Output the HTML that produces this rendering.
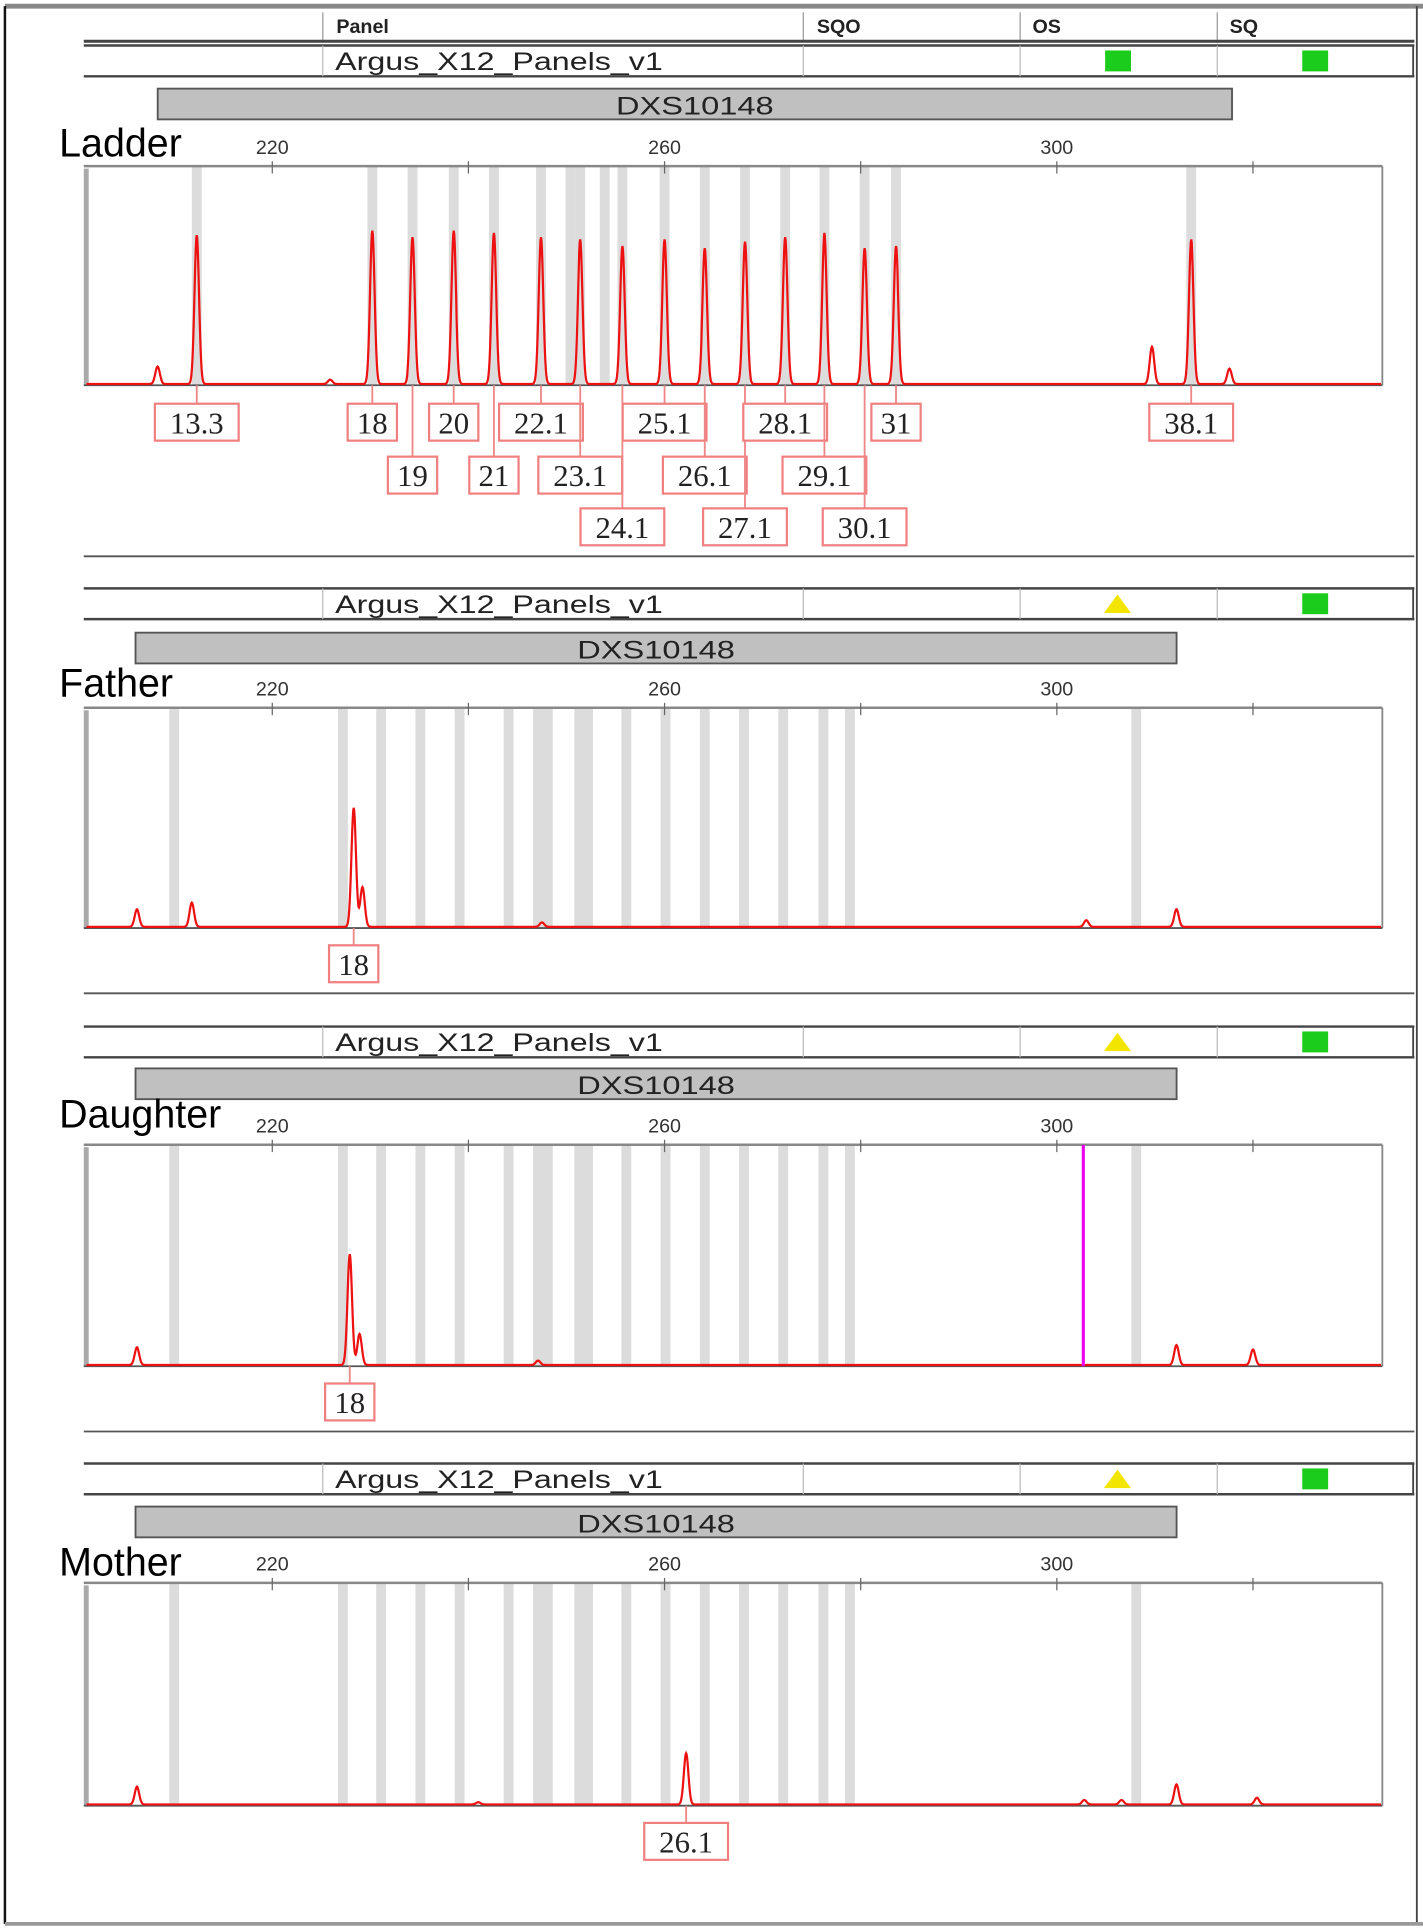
<!DOCTYPE html>
<html><head><meta charset="utf-8"><style>
html,body{margin:0;padding:0;background:#fff;}
svg{display:block;}
.hdr{font-family:"Liberation Sans",sans-serif;font-weight:bold;font-size:16px;fill:#222;}
.row{font-family:"Liberation Sans",sans-serif;font-size:20px;fill:#222;}
.dxs{font-family:"Liberation Sans",sans-serif;font-size:20px;fill:#222;}
.tick{font-family:"Liberation Sans",sans-serif;font-size:16px;fill:#333;}
.big{font-family:"Liberation Sans",sans-serif;font-size:32px;fill:#000;}
.lab{font-family:"Liberation Serif",serif;font-size:25px;fill:#222;}
</style></head><body>
<svg id="chart" width="1423" height="1930" viewBox="0 0 1155 1568" preserveAspectRatio="none" xmlns="http://www.w3.org/2000/svg"></svg>
<script>
// ---- data ----
const axisTicks = [220, 260, 300];
const minorTicks = [240, 280, 320];
const ladderPeakBp = [212.3,230.2,234.3,238.5,242.6,247.4,251.4,255.7,260.0,264.1,268.2,272.3,276.3,280.4,283.6,313.7,208.3,225.9,309.7,317.6];
const ladderPeakH  = [0.68,0.70,0.67,0.70,0.69,0.67,0.66,0.63,0.66,0.62,0.65,0.67,0.69,0.62,0.63,0.66,0.08,0.02,0.17,0.07];
const ladderLabels = ["13.3","18","19","20","21","22.1","23.1","24.1","25.1","26.1","27.1","28.1","29.1","30.1","31","38.1"];
const ladderLabelRow = [0,0,1,0,1,0,1,2,0,1,2,0,1,2,0,0];
const ladderBins = [212.3,230.2,234.3,238.5,242.6,247.4,250.4,251.4,253.9,255.7,260.0,264.1,268.2,272.3,276.3,280.4,283.6,313.7];
const sampleBins = [210.0,227.2,231.1,235.1,239.1,244.1,247.1,248.1,251.3,252.2,256.1,260.1,264.1,268.1,272.1,276.2,278.9,308.1];
const fatherPeakBp = [206.2,211.8,228.3,229.2,247.5,303.0,312.2];
const fatherPeakH  = [0.08,0.11,0.54,0.18,0.02,0.03,0.08];
const daughterPeakBp = [206.2,227.9,228.9,247.1,312.2,320.0];
const daughterPeakH  = [0.08,0.50,0.14,0.02,0.09,0.07];
const motherPeakBp = [206.2,241.0,262.2,302.8,306.6,312.2,320.4];
const motherPeakH  = [0.08,0.01,0.23,0.02,0.02,0.09,0.03];

const NS="http://www.w3.org/2000/svg";
const svg=document.getElementById('chart');
function el(tag,attrs,parent,text){const e=document.createElementNS(NS,tag);for(const k in attrs)e.setAttribute(k,attrs[k]);if(text!==undefined)e.textContent=text;(parent||svg).appendChild(e);return e;}
const xS = bp => 221 + (bp-220)*7.96;

let e;
e=el('rect',{x:0,y:0,width:1155,height:1568,fill:'#fff'});


el('line',{x1:4,y1:5,x2:1155,y2:5,stroke:'#888',"stroke-width":4});
el('line',{x1:4,y1:5,x2:4,y2:1563,stroke:'#111',"stroke-width":2});
el('line',{x1:1150,y1:5,x2:1150,y2:1563,stroke:'#444',"stroke-width":1.5});
el('line',{x1:4,y1:1563,x2:1155,y2:1563,stroke:'#999',"stroke-width":3});

e=el('g',{});


const hdr=e;
[[273,'Panel'],[663,'SQO'],[838,'OS'],[998,'SQ']].forEach(([x,t])=>{el('text',{x:x,y:27,class:'hdr'},hdr,t);});
[262,652,828,988].forEach(x=>el('line',{x1:x,y1:10,x2:x,y2:33,stroke:'#999'},hdr));
el('line',{x1:68,y1:33.5,x2:1148,y2:33.5,stroke:'#444',"stroke-width":2.5},hdr);

function panelRow(y,osType,name){
  const g=el('g',{});
  
  
  el('line',{x1:68,y1:y,x2:1148,y2:y,stroke:'#444',"stroke-width":2},g);
  el('line',{x1:68,y1:y+25,x2:1148,y2:y+25,stroke:'#444',"stroke-width":2},g);
  el('line',{x1:1147,y1:y,x2:1147,y2:y+25,stroke:'#444',"stroke-width":1.5},g);
  [262,652,828,988].forEach(x=>el('line',{x1:x,y1:y,x2:x,y2:y+25,stroke:'#bbb'},g));
  el('text',{x:272,y:y+20,class:'row',textLength:266,lengthAdjust:'spacingAndGlyphs'},g,'Argus_X12_Panels_v1');
  if(osType==='g') el('rect',{x:897,y:y+4,width:21,height:17,fill:'#1ccc1c'},g);
  else el('polygon',{points:`${896},${y+20} ${918},${y+20} ${907},${y+5}`,fill:'#f2e600'},g);
  el('rect',{x:1057,y:y+4,width:21,height:17,fill:'#1ccc1c'},g);
}
function dxsBar(x1,x2,y){
  const r=el('rect',{x:x1,y:y,width:x2-x1,height:25,fill:'#c0c0c0',stroke:'#555',"stroke-width":1.5});
  
  
  el('text',{x:(x1+x2)/2,y:y+21,"text-anchor":'middle',class:'dxs',textLength:128,lengthAdjust:'spacingAndGlyphs'},svg,'DXS10148');
}
function buildTrace(bps,hs,top,base){
  let d='';const H=base-top;
  for(let b=200;b<=334;b+=0.05){
    const x=xS(b);if(x<70||x>1121)continue;
    let v=0;
    for(let i=0;i<bps.length;i++){const s=0.23;v+=hs[i]*Math.exp(-0.5*((b-bps[i])/s)**2);}
    d+=(d?'L':'M')+x.toFixed(1)+','+(base-1-v*H).toFixed(1);
  }
  return d;
}
function plot(cfg){
  const g=el('g',{});
  
  
  const {top,base}=cfg;
  cfg.bins.forEach(b=>{
    const r=el('rect',{x:xS(b)-4,y:top,width:8,height:base-top,fill:'#dcdcdc'},g);
    
    
  });
  el('line',{x1:68,y1:top,x2:1122,y2:top,stroke:'#888',"stroke-width":2},g);
  el('line',{x1:1122,y1:top,x2:1122,y2:base,stroke:'#888',"stroke-width":1.5},g);
  el('line',{x1:70,y1:top+2,x2:70,y2:base,stroke:'#aaa',"stroke-width":4},g);
  el('line',{x1:68,y1:base,x2:1122,y2:base,stroke:'#555',"stroke-width":1.5},g);
  axisTicks.forEach(t=>{
    el('line',{x1:xS(t),y1:top-4,x2:xS(t),y2:top+6,stroke:'#666'},g);
    const tx=el('text',{x:xS(t),y:top-10,"text-anchor":'middle',class:'tick'},g,t);
    
    
  });
  minorTicks.forEach(t=>el('line',{x1:xS(t),y1:top-4,x2:xS(t),y2:top+6,stroke:'#666'},g));
  const p=el('path',{d:buildTrace(cfg.bps,cfg.hs,top,base),fill:'none',stroke:'#ee1111',"stroke-width":1.8},g);
  
  
  el('line',{x1:68,y1:cfg.bottom,x2:1148,y2:cfg.bottom,stroke:'#555',"stroke-width":1.5},g);
  const t=el('text',{x:48,y:cfg.labelY,class:'big'},svg,cfg.label);
  
  
  return g;
}
function labelBox(bp,txt,base,yc,g){
  const x=xS(bp);const w=txt.length<=2?40:68;
  el('line',{x1:x,y1:base,x2:x,y2:yc-15,stroke:'#e88',"stroke-width":1.5},g);
  const r=el('rect',{x:x-w/2,y:yc-15,width:w,height:30,fill:'#fff',stroke:'#f08080',"stroke-width":1.8},g);
  
  
  el('text',{x:x,y:yc+9,"text-anchor":'middle',class:'lab'},g,txt);
}

panelRow(37,'g','panel-row-ladder');
dxsBar(128,1000,72);
const lg=plot({name:'ladder-plot',top:135,base:313,bottom:452,bins:ladderBins,bps:ladderPeakBp,hs:ladderPeakH,label:'Ladder',labelY:127});
const rowsY=[343,386,428];
ladderLabels.forEach((l,i)=>labelBox(ladderPeakBp[i],l,313,rowsY[ladderLabelRow[i]],lg));

panelRow(478,'y','panel-row-father');
dxsBar(110,955,514);
const fg=plot({name:'father-plot',top:575,base:754,bottom:807,bins:sampleBins,bps:fatherPeakBp,hs:fatherPeakH,label:'Father',labelY:566});
labelBox(228.3,'18',754,783,fg);

panelRow(834,'y','panel-row-daughter');
dxsBar(110,955,868);
const dg=plot({name:'daughter-plot',top:930,base:1110,bottom:1163,bins:sampleBins,bps:daughterPeakBp,hs:daughterPeakH,label:'Daughter',labelY:916});
e=el('line',{x1:xS(302.7),y1:930,x2:xS(302.7),y2:1110,stroke:'#ee00ee',"stroke-width":2.5},dg);


labelBox(227.9,'18',1110,1139,dg);

panelRow(1189,'y','panel-row-mother');
dxsBar(110,955,1224);
const mg=plot({name:'mother-plot',top:1286,base:1467,bottom:1600,bins:sampleBins,bps:motherPeakBp,hs:motherPeakH,label:'Mother',labelY:1280});
labelBox(262.2,'26.1',1467,1496,mg);
</script>
</body></html>
